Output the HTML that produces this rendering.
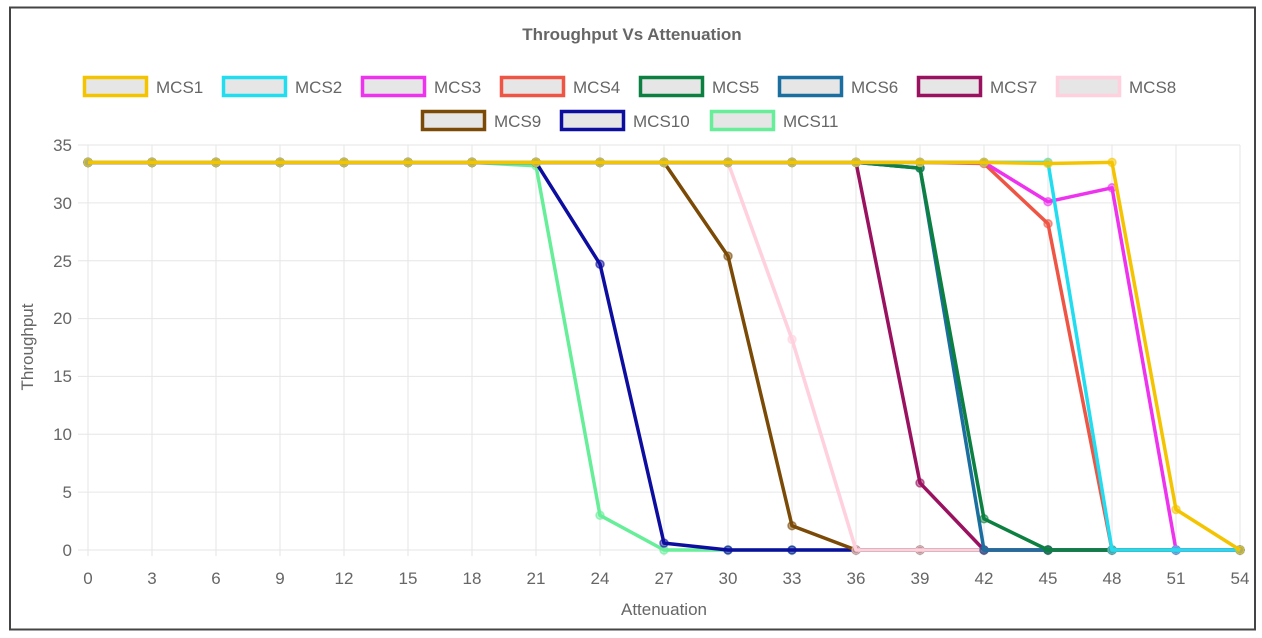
<!DOCTYPE html>
<html><head><meta charset="utf-8"><style>
html,body{margin:0;padding:0;background:#fff;}
svg{display:block;font-family:"Liberation Sans",sans-serif;}
</style></head><body>
<svg id="s" width="1262" height="638" viewBox="0 0 1262 638">
<rect x="10" y="7.5" width="1245" height="622" fill="#fff" stroke="#444" stroke-width="2"/>
<text x="632" y="40" text-anchor="middle" font-size="17" font-weight="bold" fill="#666">Throughput Vs Attenuation</text>
<g stroke="#e6e6e6" stroke-width="1">
<line x1="88" y1="145" x2="88" y2="556"/><line x1="152" y1="145" x2="152" y2="556"/><line x1="216" y1="145" x2="216" y2="556"/><line x1="280" y1="145" x2="280" y2="556"/><line x1="344" y1="145" x2="344" y2="556"/><line x1="408" y1="145" x2="408" y2="556"/><line x1="472" y1="145" x2="472" y2="556"/><line x1="536" y1="145" x2="536" y2="556"/><line x1="600" y1="145" x2="600" y2="556"/><line x1="664" y1="145" x2="664" y2="556"/><line x1="728" y1="145" x2="728" y2="556"/><line x1="792" y1="145" x2="792" y2="556"/><line x1="856" y1="145" x2="856" y2="556"/><line x1="920" y1="145" x2="920" y2="556"/><line x1="984" y1="145" x2="984" y2="556"/><line x1="1048" y1="145" x2="1048" y2="556"/><line x1="1112" y1="145" x2="1112" y2="556"/><line x1="1176" y1="145" x2="1176" y2="556"/><line x1="1240" y1="145" x2="1240" y2="556"/>
<line x1="78" y1="145" x2="1240" y2="145"/><line x1="78" y1="202.9" x2="1240" y2="202.9"/><line x1="78" y1="260.7" x2="1240" y2="260.7"/><line x1="78" y1="318.6" x2="1240" y2="318.6"/><line x1="78" y1="376.4" x2="1240" y2="376.4"/><line x1="78" y1="434.3" x2="1240" y2="434.3"/><line x1="78" y1="492.1" x2="1240" y2="492.1"/><line x1="78" y1="550" x2="1240" y2="550"/>
</g>
<g font-size="17" fill="#666" text-anchor="end">
<text x="72" y="151">35</text><text x="72" y="209">30</text><text x="72" y="267">25</text><text x="72" y="324">20</text><text x="72" y="382">15</text><text x="72" y="440">10</text><text x="72" y="498">5</text><text x="72" y="556">0</text>
</g>
<g font-size="17" fill="#666" text-anchor="middle">
<text x="88" y="584">0</text><text x="152" y="584">3</text><text x="216" y="584">6</text><text x="280" y="584">9</text><text x="344" y="584">12</text><text x="408" y="584">15</text><text x="472" y="584">18</text><text x="536" y="584">21</text><text x="600" y="584">24</text><text x="664" y="584">27</text><text x="728" y="584">30</text><text x="792" y="584">33</text><text x="856" y="584">36</text><text x="920" y="584">39</text><text x="984" y="584">42</text><text x="1048" y="584">45</text><text x="1112" y="584">48</text><text x="1176" y="584">51</text><text x="1240" y="584">54</text>
<text x="664" y="615">Attenuation</text>
<text transform="translate(33,347) rotate(-90)">Throughput</text>
</g>
<g id="leg" font-size="17" fill="#666" stroke-width="3.5"></g>
<g id="lines" fill="none" stroke-width="3.5" stroke-linejoin="round"></g>
</svg>
<script>
var X=[0,3,6,9,12,15,18,21,24,27,30,33,36,39,42,45,48,51,54];
var F=33.5;
function mk(arr){var a=[];for(var i=0;i<19;i++)a.push(i<arr.length?arr[i]:0);return a;}
function flat(n){var a=[];for(var i=0;i<n;i++)a.push(F);return a;}
var S=[
["MCS1","#f5c400",flat(15).concat([33.4,33.5,3.5,0])],
["MCS2","#22ddf0",flat(16).concat([0])],
["MCS3","#ee33ee",flat(15).concat([30.1,31.3,0])],
["MCS4","#ee5544",flat(14).concat([33.4,28.2,0])],
["MCS5","#0b8040",flat(13).concat([33,2.7,0])],
["MCS6","#1a6ea0",flat(13).concat([33,0])],
["MCS7","#99115f",flat(13).concat([5.8,0])],
["MCS8","#ffd0dd",flat(11).concat([18.2,0])],
["MCS9","#7a4a06",flat(10).concat([25.4,2.1,0])],
["MCS10","#0d0da0",flat(8).concat([24.7,0.6,0])],
["MCS11","#66ee99",flat(7).concat([33.2,3,0])]
];
var NS="http://www.w3.org/2000/svg";
function el(t,at,p){var e=document.createElementNS(NS,t);for(var k in at)e.setAttribute(k,at[k]);p.appendChild(e);return e;}
var L=document.getElementById("lines"),G=document.getElementById("leg");
for(var s=S.length-1;s>=0;s--){
 var d=mk(S[s][2]),pts=[];
 for(var i=0;i<19;i++)pts.push((88+X[i]*64/3).toFixed(1)+","+(550-d[i]*405/35).toFixed(1));
 el("polyline",{points:pts.join(" "),stroke:S[s][1]},L);
 for(var i=0;i<19;i++){var p=pts[i].split(",");el("circle",{cx:p[0],cy:p[1],r:4,fill:S[s][1],"fill-opacity":0.5,stroke:S[s][1],"stroke-width":1.5,"stroke-opacity":0.6},L);}
}
var pos=[[83,76],[222,76],[361,76],[500,76],[639,76],[778,76],[917,76],[1056,76],[421,110],[560,110],[710,110]];
for(var s=0;s<S.length;s++){
 var x=pos[s][0],y=pos[s][1];
 el("rect",{x:x+1.5,y:y+1.5,width:62,height:18,fill:"#e6e6e6",stroke:S[s][1]},G);
 var t=el("text",{x:x+73,y:y+17,stroke:"none"},G);t.textContent=S[s][0];
}
</script>
</body></html>
